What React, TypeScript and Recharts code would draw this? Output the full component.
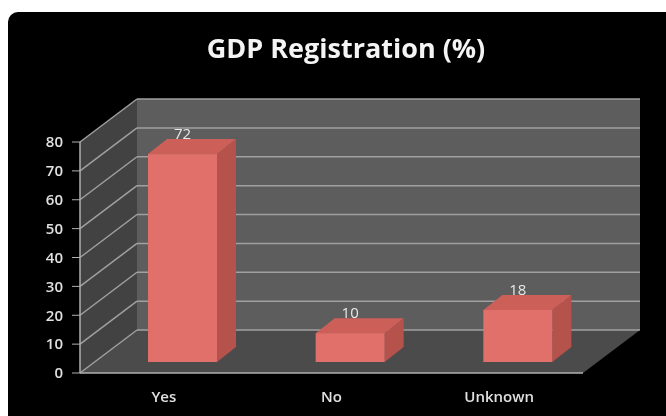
import React from 'react';
import { BarChart, Bar, XAxis, YAxis, ReferenceArea, ReferenceLine, LabelList } from 'recharts';

const title = 'GDP Registration (%)';
const categories = ['Yes', 'No', 'Unknown'];
const values = [72, 10, 18];
const yTicks = [0, 10, 20, 30, 40, 50, 60, 70, 80];

const data = categories.map((c, i) => ({ name: c, value: values[i] }));

// 3D projection offsets (pixels)
const WALL_DX = 57;
const WALL_DY = -43;
const BAR_SHIFT_X = 19;
const BAR_SHIFT_Y = -11;
const BAR_DEPTH_X = 19;
const BAR_DEPTH_Y = -15;

const FONT = '"Open Sans", "DejaVu Sans", sans-serif';

const Walls = (props: any) => {
  const { x, y, width, height } = props;
  const bx = x + WALL_DX;
  const by = y + WALL_DY;
  const fy = y + height;
  return (
    <g>
      <rect x={bx} y={by} width={width} height={height} fill="#5d5d5d" />
      <polygon
        points={`${x},${fy} ${bx},${fy + WALL_DY} ${bx},${by} ${x},${y}`}
        fill="#424242"
      />
      <polygon
        points={`${x},${fy} ${x + width},${fy} ${x + width + WALL_DX},${fy + WALL_DY} ${bx},${fy + WALL_DY}`}
        fill="#4b4b4b"
      />
    </g>
  );
};

const GridLine = (props: any) => {
  const { x1, y1, x2 } = props;
  const bx1 = x1 + WALL_DX;
  const bx2 = x2 + WALL_DX;
  const by = y1 + WALL_DY;
  return (
    <g>
      <line x1={x1} y1={y1} x2={bx1} y2={by} stroke="#a0a0a0" strokeWidth={1.5} />
      <line x1={bx1} y1={by} x2={bx2} y2={by} stroke="#a0a0a0" strokeWidth={1.5} />
    </g>
  );
};

const Bar3D = (props: any) => {
  const { x, y, width, height } = props;
  if (width == null || height == null) return null;
  const fx = x + BAR_SHIFT_X;
  const fy = y + BAR_SHIFT_Y;
  const w = width;
  const h = height;
  const dx = BAR_DEPTH_X;
  const dy = BAR_DEPTH_Y;
  return (
    <g>
      <polygon
        points={`${fx + w},${fy} ${fx + w + dx},${fy + dy} ${fx + w + dx},${fy + h + dy} ${fx + w},${fy + h}`}
        fill="#b5524c"
      />
      <polygon
        points={`${fx},${fy} ${fx + dx},${fy + dy} ${fx + w + dx},${fy + dy} ${fx + w},${fy}`}
        fill="#cc5f58"
      />
      <rect x={fx} y={fy} width={w} height={h} fill="#e2706a" />
    </g>
  );
};

const BarLabel = (props: any) => {
  const { x, y, width, value } = props;
  return (
    <text
      x={x + width / 2 + BAR_SHIFT_X}
      y={y + BAR_SHIFT_Y - 21}
      textAnchor="middle"
      dominantBaseline="central"
      fill="#e8e8e8"
      fontSize={15}
      fontFamily={FONT}
    >
      {value}
    </text>
  );
};

export default function App() {
  return (
    <div
      style={{
        position: 'fixed',
        left: 8,
        top: 12,
        width: 680,
        height: 420,
        background: '#000',
        borderRadius: 10,
        overflow: 'hidden',
      }}
    >
      <div
        style={{
          position: 'absolute',
          left: 0,
          top: 18,
          width: 676,
          textAlign: 'center',
          color: '#f4f4f4',
          fontFamily: FONT,
          fontWeight: 700,
          fontSize: 27,
          lineHeight: '36px',
        }}
      >
        {title}
      </div>
      <div style={{ position: 'absolute', left: 0, top: 0 }}>
        <BarChart
          width={658}
          height={404}
          data={data}
          margin={{ top: 130, right: 83, bottom: 13, left: 42 }}
          barSize={69}
        >
          <ReferenceArea y1={0} y2={80} shape={<Walls />} fillOpacity={1} zIndex={-200} />
          {yTicks.map((t) => (
            <ReferenceLine key={t} y={t} shape={<GridLine />} zIndex={-150} />
          ))}
          <XAxis
            dataKey="name"
            tickLine={false}
            axisLine={{ stroke: '#b0b0b0', strokeWidth: 1.5 }}
            tick={{ fill: '#e0e0e0', fontSize: 15, fontFamily: FONT, fontWeight: 600 }}
            tickMargin={12}
            height={30}
          />
          <YAxis
            domain={[0, 80]}
            ticks={yTicks}
            width={30}
            tickSize={8}
            tickMargin={9}
            axisLine={{ stroke: '#b0b0b0', strokeWidth: 1.5 }}
            tickLine={{ stroke: '#b0b0b0' }}
            tick={{ fill: '#e0e0e0', fontSize: 15, fontFamily: FONT, fontWeight: 600 }}
            interval={0}
          />
          <Bar dataKey="value" fill="#e2706a" shape={<Bar3D />} isAnimationActive={false}>
            <LabelList dataKey="value" content={<BarLabel />} />
          </Bar>
        </BarChart>
      </div>
    </div>
  );
}
